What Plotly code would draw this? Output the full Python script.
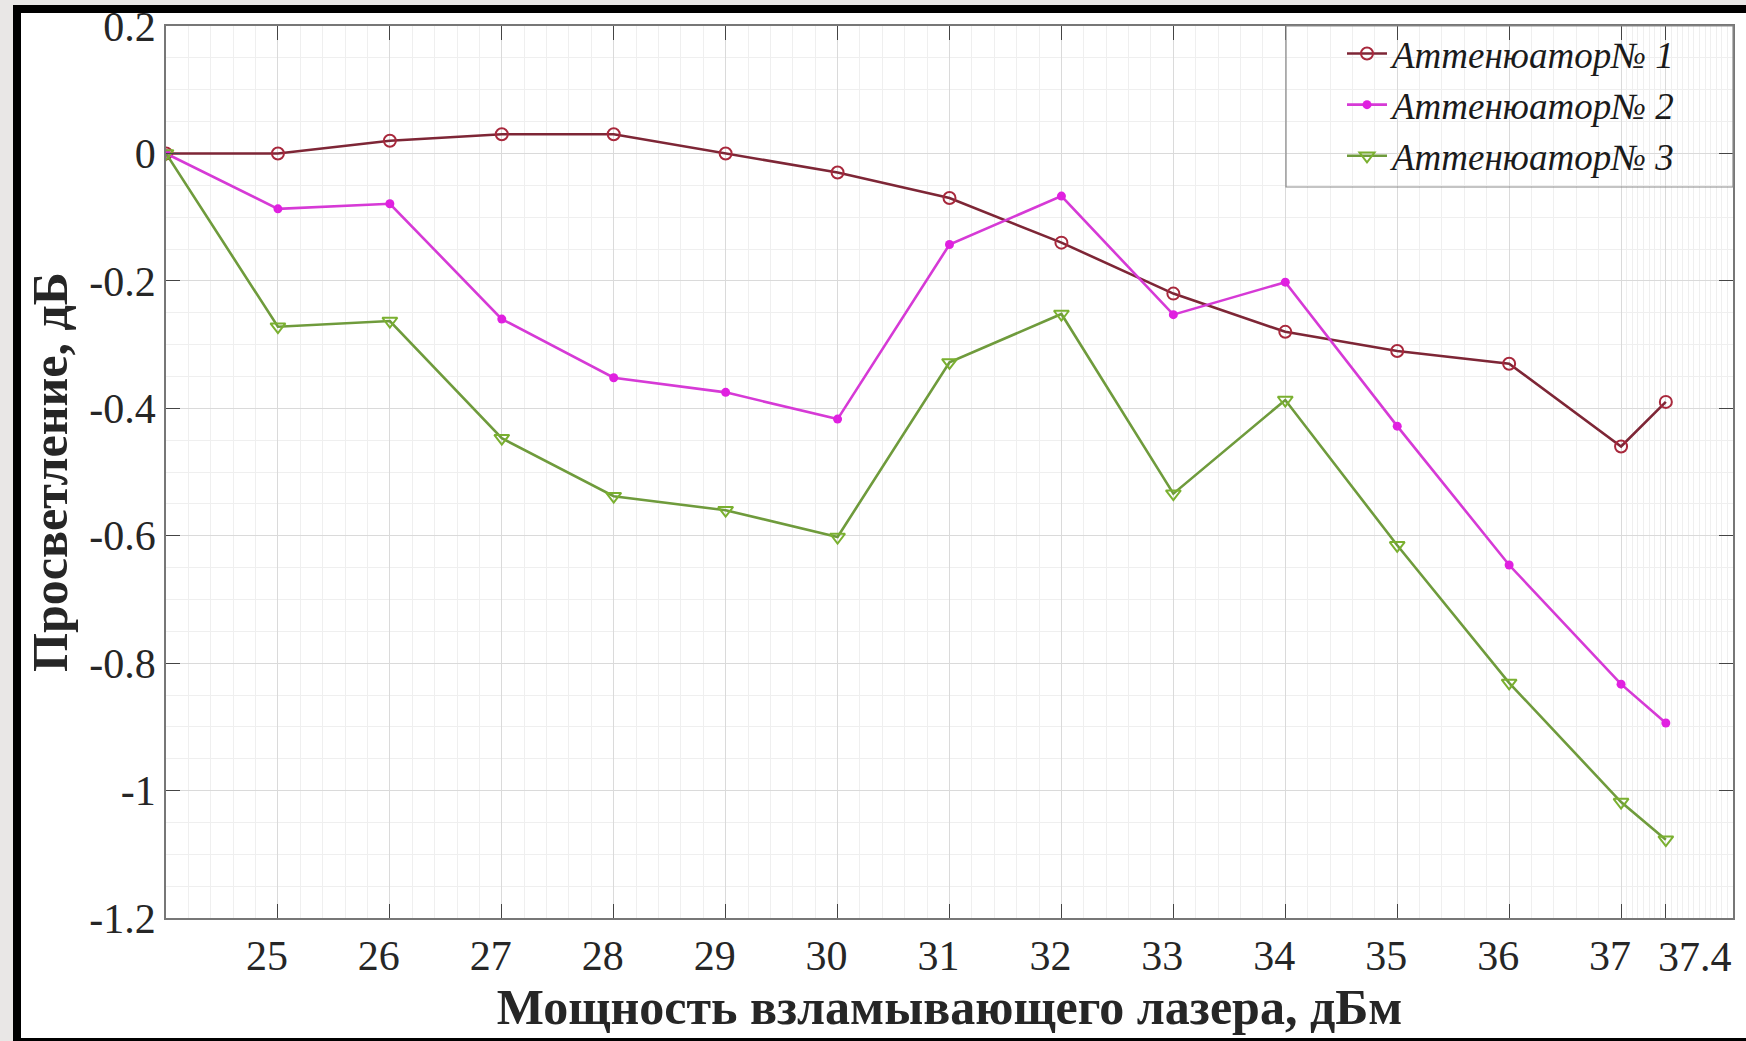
import numpy as np
import plotly.graph_objects as go

# Laser power, dBm
power = [24, 25, 26, 27, 28, 29, 30, 31, 32, 33, 34, 35, 36, 37, 37.4]

# Bleaching of each attenuator, dB
att1 = [0, 0, 0.02, 0.03, 0.03, 0, -0.03, -0.07, -0.14, -0.22, -0.28, -0.31, -0.33, -0.46, -0.39]
att2 = [0, -0.087, -0.079, -0.26, -0.352, -0.375, -0.417, -0.143, -0.067, -0.253, -0.202, -0.428, -0.646, -0.833, -0.894]
att3 = [0, -0.272, -0.263, -0.447, -0.538, -0.56, -0.602, -0.328, -0.252, -0.534, -0.387, -0.615, -0.831, -1.018, -1.077]

names = ["Аттенюатор№ 1", "Аттенюатор№ 2", "Аттенюатор№ 3"]
x_ticks = [25, 26, 27, 28, 29, 30, 31, 32, 33, 34, 35, 36, 37, 37.4]
y_ticks = [0.2, 0, -0.2, -0.4, -0.6, -0.8, -1, -1.2]

W, H = 1746, 1041
L, R, T, B = 166, 1733, 26, 918

SERIF = "Liberation Serif, Times New Roman, serif"
TICK_FONT = dict(family=SERIF, size=42, color="#262626")

# the last tick sits close to 37, so its label is set beside the tick instead
x_ticktext = [str(v) for v in x_ticks]
last_label = x_ticktext[-1]
x_ticktext[-1] = ""

fig = go.Figure()

fig.add_trace(go.Scatter(
    x=power, y=att1, name="<i>" + names[0] + "</i>", mode="lines+markers",
    line=dict(color="#7E2636", width=2.6),
    marker=dict(symbol="circle-open", size=12, color="#A8283C", line=dict(width=2)),
))
fig.add_trace(go.Scatter(
    x=power, y=att2, name="<i>" + names[1] + "</i>", mode="lines+markers",
    line=dict(color="#D63AD6", width=2.6),
    marker=dict(symbol="circle", size=9, color="#E020E0"),
))
fig.add_trace(go.Scatter(
    x=power, y=att3, name="<i>" + names[2] + "</i>", mode="lines+markers",
    line=dict(color="#6F9B3C", width=2.6),
    marker=dict(symbol="triangle-down-open", size=13, color="#7AB030", line=dict(width=2)),
))

# minor grid: 0.2 steps, finer between 37 and 38
minor_x = [round(v, 2) for v in np.arange(24.2, 37.0, 0.2)] + \
          [round(v, 2) for v in np.arange(37.05, 38.0, 0.05)]


def px_x(X):
    return (X - L) / (R - L)


def px_y(Y):
    return (B - Y) / (B - T)


shapes = [
    # outer black frame and white sheet
    dict(type="rect", xref="paper", yref="paper", layer="below",
         x0=px_x(13), x1=px_x(1800), y0=px_y(1100), y1=px_y(5),
         fillcolor="#000000", line=dict(width=0)),
    dict(type="rect", xref="paper", yref="paper", layer="below",
         x0=px_x(21), x1=px_x(1800), y0=px_y(1038), y1=px_y(13),
         fillcolor="#ffffff", line=dict(width=0)),
    # legend box
    dict(type="rect", xref="paper", yref="paper", layer="above",
         x0=px_x(1286), x1=px_x(1733), y0=px_y(187), y1=px_y(26),
         fillcolor="rgba(0,0,0,0)", line=dict(width=1.2, color="#8a8a8a")),
]

annotations = [
    dict(text=last_label, x=x_ticks[-1], xref="x", y=0, yref="paper",
         xanchor="left", yanchor="top", xshift=-10, yshift=-14,
         showarrow=False, font=TICK_FONT),
]

fig.update_layout(
    width=W, height=H,
    margin=dict(l=L, r=W - R, t=T, b=H - B, pad=0, autoexpand=False),
    paper_bgcolor="#e9e7e6",
    plot_bgcolor="#ffffff",
    shapes=shapes,
    annotations=annotations,
    font=dict(family=SERIF, color="#262626"),
    showlegend=True,
    legend=dict(
        x=px_x(1342), xanchor="left", y=px_y(23), yanchor="top",
        bgcolor="rgba(0,0,0,0)", borderwidth=0,
        font=dict(family=SERIF, size=37, color="#1a1a1a"),
        itemwidth=40,
    ),
)

fig.update_xaxes(
    range=[24, 38], automargin=False,
    tickmode="array", tickvals=x_ticks, tickangle=0,
    ticktext=x_ticktext, ticklabelshift=-11,
    ticks="inside", ticklen=14, tickwidth=1, tickcolor="#444",
    showline=True, linecolor="#777", linewidth=1.5, mirror="ticks",
    showgrid=True, gridcolor="#dadada", gridwidth=1,
    minor=dict(tickvals=minor_x, showgrid=True, gridcolor="#efefef", gridwidth=1, ticklen=0),
    tickfont=TICK_FONT,
    zeroline=False,
    title=dict(text="<b>Мощность взламывающего лазера, дБм</b>",
               font=dict(family=SERIF, size=50, color="#262626"), standoff=6),
)
fig.update_yaxes(
    range=[-1.2, 0.2], automargin=False,
    tickmode="array", tickvals=y_ticks,
    ticktext=["0.2", "0", "-0.2", "-0.4", "-0.6", "-0.8", "-1", "-1.2"],
    ticks="inside", ticklen=14, tickwidth=1, tickcolor="#444",
    showline=True, linecolor="#777", linewidth=1.5, mirror="ticks",
    showgrid=True, gridcolor="#dadada", gridwidth=1,
    minor=dict(dtick=0.05, tick0=0, showgrid=True, gridcolor="#efefef", gridwidth=1, ticklen=0),
    tickfont=TICK_FONT,
    zeroline=False,
    title=dict(text="<b>Просветление, дБ</b>",
               font=dict(family=SERIF, size=50, color="#262626"), standoff=6),
)

fig.write_html("out.html")
